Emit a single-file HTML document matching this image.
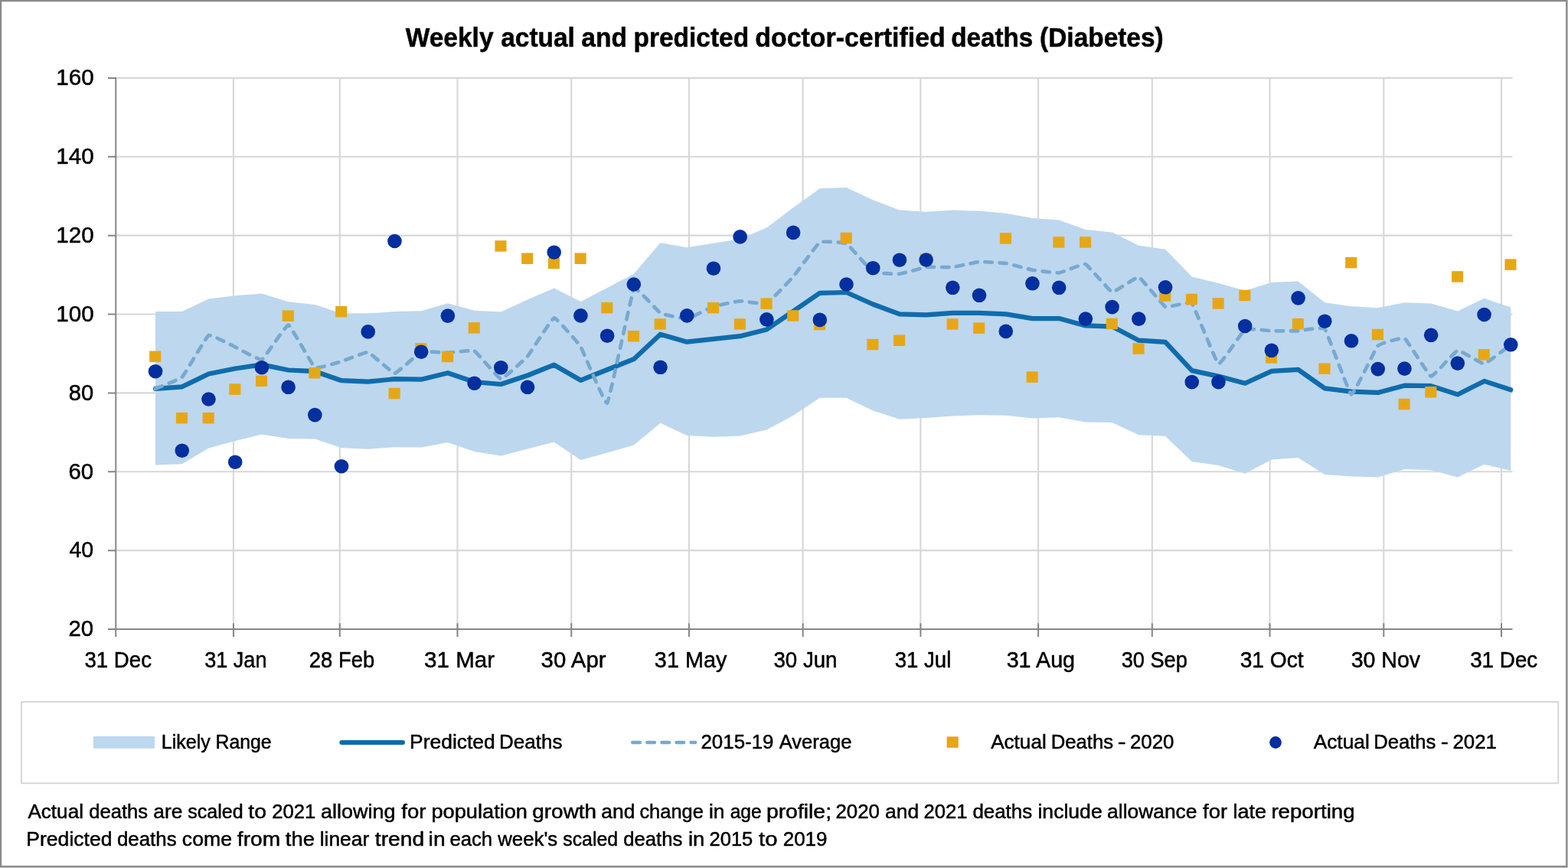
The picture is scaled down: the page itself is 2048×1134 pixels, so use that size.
<!DOCTYPE html>
<html lang="en"><head><meta charset="utf-8"><title>Weekly actual and predicted doctor-certified deaths (Diabetes)</title>
<style>html,body{margin:0;padding:0;background:#fff;width:2048px;height:1134px;overflow:hidden}svg{display:block}text{font-family:"Liberation Sans",sans-serif;fill:#000;stroke:#000;stroke-width:0.5px;stroke-linejoin:round}</style></head><body>
<svg width="2048" height="1134" viewBox="0 0 2048 1134" role="img" aria-label="Weekly actual and predicted doctor-certified deaths (Diabetes)">
<rect x="0" y="0" width="2048" height="1134" fill="#c6c6c6"/>
<rect x="0" y="0" width="2047.2" height="1133" fill="#8a8a8a"/>
<rect x="2.2" y="2.2" width="2042.8999999999999" height="1128.7" fill="#fff"/>
<path d="M151.25 719.13H1975.5M151.25 616.26H1975.5M151.25 513.39H1975.5M151.25 410.51H1975.5M151.25 307.64H1975.5M151.25 204.77H1975.5M151.25 101.90H1975.5M304.95 101.9V822.0M443.78 101.9V822.0M597.49 101.9V822.0M746.24 101.9V822.0M899.94 101.9V822.0M1048.69 101.9V822.0M1202.39 101.9V822.0M1356.10 101.9V822.0M1504.84 101.9V822.0M1658.55 101.9V822.0M1807.30 101.9V822.0M1961.00 101.9V822.0" fill="none" stroke="#d7d7d7" stroke-width="2.1"/>
<polygon points="203.05,406.9 237.76,406.9 272.47,390.5 307.18,386.3 341.89,383.5 376.60,394.3 411.31,398.0 446.02,409.6 480.73,409.6 515.44,407.0 550.15,406.3 584.86,396.3 619.57,405.8 654.28,407.6 688.99,391.6 723.70,376.5 758.41,394.1 793.12,376.0 827.83,357.8 862.54,317.2 897.25,323.2 931.96,317.7 966.67,312.2 1001.38,297.6 1036.09,271.3 1070.80,246.3 1105.51,245.0 1140.22,261.3 1174.93,274.6 1209.64,276.8 1244.35,274.6 1279.06,275.6 1313.77,278.8 1348.48,285.1 1383.19,287.6 1417.90,300.1 1452.61,303.4 1487.32,320.7 1522.03,325.7 1556.74,361.4 1591.45,370.1 1626.16,379.7 1660.87,368.9 1695.58,367.6 1730.29,395.2 1765.00,400.2 1799.71,402.2 1834.42,395.2 1869.13,396.4 1903.84,406.5 1938.55,389.7 1973.26,401.5 1973.26,614.9 1938.55,606.7 1903.84,623.4 1869.13,614.2 1834.42,612.9 1799.71,623.4 1765.00,622.4 1730.29,619.9 1695.58,597.9 1660.87,600.4 1626.16,618.7 1591.45,607.9 1556.74,602.9 1522.03,569.8 1487.32,568.3 1452.61,552.1 1417.90,551.6 1383.19,545.3 1348.48,546.5 1313.77,542.8 1279.06,542.3 1244.35,543.5 1209.64,546.0 1174.93,547.8 1140.22,536.5 1105.51,519.7 1070.80,519.7 1036.09,542.8 1001.38,561.6 966.67,569.6 931.96,570.8 897.25,569.1 862.54,552.8 827.83,581.6 793.12,591.6 758.41,600.9 723.70,577.4 688.99,586.6 654.28,595.4 619.57,589.9 584.86,577.9 550.15,584.4 515.44,584.2 480.73,586.7 446.02,584.9 411.31,573.4 376.60,572.9 341.89,567.4 307.18,575.9 272.47,585.4 237.76,606.2 203.05,607.5" fill="#bdd7ee"/>
<path d="M151.25 100.9V832.0M140.95 822.0H1975.5M140.95 719.13H151.25M140.95 616.26H151.25M140.95 513.39H151.25M140.95 410.51H151.25M140.95 307.64H151.25M140.95 204.77H151.25M140.95 101.90H151.25M304.95 814.2V832.0M443.78 814.2V832.0M597.49 814.2V832.0M746.24 814.2V832.0M899.94 814.2V832.0M1048.69 814.2V832.0M1202.39 814.2V832.0M1356.10 814.2V832.0M1504.84 814.2V832.0M1658.55 814.2V832.0M1807.30 814.2V832.0M1961.00 814.2V832.0" fill="none" stroke="#868686" stroke-width="2"/>
<polyline points="203.05,507.8 237.76,505.3 272.47,488.5 307.18,481.5 341.89,476.4 376.60,483.5 411.31,485.2 446.02,497.2 480.73,498.7 515.44,495.2 550.15,495.7 584.86,487.2 619.57,499.0 654.28,502.0 688.99,490.5 723.70,476.7 758.41,496.8 793.12,483.0 827.83,469.2 862.54,436.7 897.25,446.7 931.96,442.9 966.67,439.2 1001.38,430.4 1036.09,406.6 1070.80,382.8 1105.51,382.0 1140.22,397.5 1174.93,410.4 1209.64,411.4 1244.35,408.9 1279.06,408.9 1313.77,410.4 1348.48,416.1 1383.19,416.1 1417.90,425.4 1452.61,426.6 1487.32,444.7 1522.03,446.9 1556.74,484.1 1591.45,491.6 1626.16,500.7 1660.87,484.9 1695.58,482.9 1730.29,507.4 1765.00,511.7 1799.71,512.9 1834.42,503.7 1869.13,504.2 1903.84,515.4 1938.55,497.9 1973.26,509.2" fill="none" stroke="#0f6cac" stroke-width="6.2" stroke-linejoin="round" stroke-linecap="round"/>
<path d="M203.05 507.80C204.44 507.20 234.98 495.49 237.76 492.70C240.54 489.91 269.69 439.67 272.47 438.10C275.25 436.53 304.40 452.12 307.18 453.40C309.96 454.68 339.11 471.15 341.89 470.00C344.67 468.85 373.82 424.19 376.60 424.60C379.38 425.01 408.53 478.30 411.31 480.20C414.09 482.10 443.24 473.00 446.02 472.20C448.80 471.40 477.95 459.58 480.73 460.20C483.51 460.82 512.66 487.72 515.44 487.70C518.22 487.68 547.37 460.78 550.15 459.70C552.93 458.62 582.08 460.75 584.86 460.70C587.64 460.65 616.79 457.02 619.57 458.40C622.35 459.78 651.50 494.92 654.28 495.20C657.06 495.48 686.21 468.69 688.99 465.50C691.77 462.31 720.92 415.90 723.70 415.40C726.48 414.90 755.63 448.56 758.41 453.00C761.19 457.44 790.34 529.51 793.12 526.50C795.90 523.49 825.05 382.50 827.83 377.80C830.61 373.10 859.76 407.55 862.54 409.10C865.32 410.65 894.47 416.95 897.25 416.60C900.03 416.25 929.18 401.23 931.96 400.30C934.74 399.37 963.89 393.45 966.67 393.30C969.45 393.15 998.60 397.87 1001.38 396.60C1004.16 395.33 1033.31 364.71 1036.09 361.50C1038.87 358.29 1068.02 318.13 1070.80 316.40C1073.58 314.67 1102.73 316.64 1105.51 318.20C1108.29 319.76 1137.44 353.72 1140.22 355.30C1143.00 356.88 1172.15 358.05 1174.93 357.80C1177.71 357.55 1206.86 349.35 1209.64 349.00C1212.42 348.65 1241.57 349.28 1244.35 349.00C1247.13 348.72 1276.28 342.20 1279.06 342.00C1281.84 341.80 1310.99 343.57 1313.77 344.00C1316.55 344.43 1345.70 352.20 1348.48 352.70C1351.26 353.20 1380.41 356.80 1383.19 356.50C1385.97 356.20 1415.12 344.20 1417.90 345.20C1420.68 346.20 1449.83 380.93 1452.61 381.60C1455.39 382.27 1484.54 361.23 1487.32 362.00C1490.10 362.77 1519.25 399.42 1522.03 400.80C1524.81 402.18 1553.96 393.42 1556.74 396.40C1559.52 399.38 1588.67 474.04 1591.45 475.40C1594.23 476.76 1623.38 432.02 1626.16 430.30C1628.94 428.58 1658.09 432.22 1660.87 432.30C1663.65 432.38 1692.80 432.40 1695.58 432.30C1698.36 432.20 1727.51 426.48 1730.29 429.80C1733.07 433.12 1762.22 514.53 1765.00 515.40C1767.78 516.27 1796.93 454.54 1799.71 451.60C1802.49 448.66 1831.64 440.40 1834.42 442.00C1837.20 443.60 1866.35 490.97 1869.13 491.60C1871.91 492.23 1901.06 458.45 1903.84 457.80C1906.62 457.15 1935.77 475.70 1938.55 475.40C1941.33 475.10 1971.87 451.30 1973.26 450.30" fill="none" stroke="#77a9d0" stroke-width="4.7" stroke-linejoin="round" stroke-linecap="round" stroke-dasharray="9.3 9.8"/>
<g fill="#e6a717"><rect x="195.20" y="458.5" width="15.1" height="14.5"/><rect x="229.91" y="538.9" width="15.1" height="14.5"/><rect x="264.62" y="538.9" width="15.1" height="14.5"/><rect x="299.33" y="501.3" width="15.1" height="14.5"/><rect x="334.04" y="490.5" width="15.1" height="14.5"/><rect x="368.75" y="405.4" width="15.1" height="14.5"/><rect x="403.46" y="480.0" width="15.1" height="14.5"/><rect x="438.17" y="399.9" width="15.1" height="14.5"/><rect x="507.59" y="506.8" width="15.1" height="14.5"/><rect x="542.30" y="448.2" width="15.1" height="14.5"/><rect x="577.01" y="458.7" width="15.1" height="14.5"/><rect x="611.72" y="421.1" width="15.1" height="14.5"/><rect x="646.43" y="314.2" width="15.1" height="14.5"/><rect x="681.14" y="330.5" width="15.1" height="14.5"/><rect x="715.85" y="336.8" width="15.1" height="14.5"/><rect x="750.56" y="330.5" width="15.1" height="14.5"/><rect x="785.27" y="394.9" width="15.1" height="14.5"/><rect x="819.98" y="432.0" width="15.1" height="14.5"/><rect x="854.69" y="416.2" width="15.1" height="14.5"/><rect x="924.11" y="394.9" width="15.1" height="14.5"/><rect x="958.82" y="416.2" width="15.1" height="14.5"/><rect x="993.53" y="389.4" width="15.1" height="14.5"/><rect x="1028.24" y="405.2" width="15.1" height="14.5"/><rect x="1062.95" y="416.8" width="15.1" height="14.5"/><rect x="1097.66" y="303.7" width="15.1" height="14.5"/><rect x="1132.37" y="442.8" width="15.1" height="14.5"/><rect x="1167.08" y="437.5" width="15.1" height="14.5"/><rect x="1201.79" y="331.6" width="15.1" height="14.5"/><rect x="1236.50" y="416.2" width="15.1" height="14.5"/><rect x="1271.21" y="421.4" width="15.1" height="14.5"/><rect x="1305.92" y="304.2" width="15.1" height="14.5"/><rect x="1340.63" y="485.3" width="15.1" height="14.5"/><rect x="1375.34" y="309.2" width="15.1" height="14.5"/><rect x="1410.05" y="309.2" width="15.1" height="14.5"/><rect x="1444.76" y="415.7" width="15.1" height="14.5"/><rect x="1479.47" y="448.3" width="15.1" height="14.5"/><rect x="1514.18" y="379.4" width="15.1" height="14.5"/><rect x="1548.89" y="383.7" width="15.1" height="14.5"/><rect x="1583.60" y="389.2" width="15.1" height="14.5"/><rect x="1618.31" y="378.7" width="15.1" height="14.5"/><rect x="1653.02" y="460.1" width="15.1" height="14.5"/><rect x="1687.73" y="416.0" width="15.1" height="14.5"/><rect x="1722.44" y="474.4" width="15.1" height="14.5"/><rect x="1757.15" y="335.9" width="15.1" height="14.5"/><rect x="1791.86" y="429.8" width="15.1" height="14.5"/><rect x="1826.57" y="520.8" width="15.1" height="14.5"/><rect x="1861.28" y="505.0" width="15.1" height="14.5"/><rect x="1895.99" y="354.2" width="15.1" height="14.5"/><rect x="1930.70" y="456.1" width="15.1" height="14.5"/><rect x="1965.41" y="338.4" width="15.1" height="14.5"/></g>
<g fill="#042f9f"><circle cx="203.05" cy="485.2" r="9.3"/><circle cx="237.76" cy="588.7" r="9.3"/><circle cx="272.47" cy="521.5" r="9.3"/><circle cx="307.18" cy="603.7" r="9.3"/><circle cx="341.89" cy="480.2" r="9.3"/><circle cx="376.60" cy="505.8" r="9.3"/><circle cx="411.31" cy="542.1" r="9.3"/><circle cx="446.02" cy="609.2" r="9.3"/><circle cx="480.73" cy="433.4" r="9.3"/><circle cx="515.44" cy="315.0" r="9.3"/><circle cx="550.15" cy="459.7" r="9.3"/><circle cx="584.86" cy="412.6" r="9.3"/><circle cx="619.57" cy="500.7" r="9.3"/><circle cx="654.28" cy="480.2" r="9.3"/><circle cx="688.99" cy="505.8" r="9.3"/><circle cx="723.70" cy="329.7" r="9.3"/><circle cx="758.41" cy="412.4" r="9.3"/><circle cx="793.12" cy="438.7" r="9.3"/><circle cx="827.83" cy="371.5" r="9.3"/><circle cx="862.54" cy="479.8" r="9.3"/><circle cx="897.25" cy="412.4" r="9.3"/><circle cx="931.96" cy="350.7" r="9.3"/><circle cx="966.67" cy="309.4" r="9.3"/><circle cx="1001.38" cy="417.4" r="9.3"/><circle cx="1036.09" cy="303.9" r="9.3"/><circle cx="1070.80" cy="417.9" r="9.3"/><circle cx="1105.51" cy="371.5" r="9.3"/><circle cx="1140.22" cy="350.2" r="9.3"/><circle cx="1174.93" cy="339.7" r="9.3"/><circle cx="1209.64" cy="339.5" r="9.3"/><circle cx="1244.35" cy="375.8" r="9.3"/><circle cx="1279.06" cy="385.8" r="9.3"/><circle cx="1313.77" cy="432.9" r="9.3"/><circle cx="1348.48" cy="370.3" r="9.3"/><circle cx="1383.19" cy="375.8" r="9.3"/><circle cx="1417.90" cy="416.6" r="9.3"/><circle cx="1452.61" cy="401.1" r="9.3"/><circle cx="1487.32" cy="416.6" r="9.3"/><circle cx="1522.03" cy="375.3" r="9.3"/><circle cx="1556.74" cy="499.1" r="9.3"/><circle cx="1591.45" cy="499.1" r="9.3"/><circle cx="1626.16" cy="426.0" r="9.3"/><circle cx="1660.87" cy="457.8" r="9.3"/><circle cx="1695.58" cy="389.4" r="9.3"/><circle cx="1730.29" cy="419.7" r="9.3"/><circle cx="1765.00" cy="445.3" r="9.3"/><circle cx="1799.71" cy="482.1" r="9.3"/><circle cx="1834.42" cy="481.6" r="9.3"/><circle cx="1869.13" cy="437.8" r="9.3"/><circle cx="1903.84" cy="474.6" r="9.3"/><circle cx="1938.55" cy="411.0" r="9.3"/><circle cx="1973.26" cy="450.3" r="9.3"/></g>
<text y="61.25" font-size="35" font-weight="bold"><tspan x="529.69" textLength="114.83" lengthAdjust="spacingAndGlyphs">Weekly</tspan> <tspan x="654.27" textLength="96.59" lengthAdjust="spacingAndGlyphs">actual</tspan> <tspan x="759.26" textLength="59.71" lengthAdjust="spacingAndGlyphs">and</tspan> <tspan x="827.53" textLength="150.68" lengthAdjust="spacingAndGlyphs">predicted</tspan> <tspan x="986.36" textLength="248.38" lengthAdjust="spacingAndGlyphs">doctor-certified</tspan> <tspan x="1242.13" textLength="107.23" lengthAdjust="spacingAndGlyphs">deaths</tspan> <tspan x="1358.08" textLength="161.59" lengthAdjust="spacingAndGlyphs">(Diabetes)</tspan></text>
<text x="89.57" y="831.30" font-size="28.6" textLength="32.63" lengthAdjust="spacingAndGlyphs">20</text>
<text x="90.39" y="728.43" font-size="28.6" textLength="31.77" lengthAdjust="spacingAndGlyphs">40</text>
<text x="89.56" y="625.56" font-size="28.6" textLength="32.64" lengthAdjust="spacingAndGlyphs">60</text>
<text x="89.78" y="522.69" font-size="28.6" textLength="32.42" lengthAdjust="spacingAndGlyphs">80</text>
<text x="73.29" y="419.81" font-size="28.6" textLength="49.42" lengthAdjust="spacingAndGlyphs">100</text>
<text x="73.29" y="316.94" font-size="28.6" textLength="49.42" lengthAdjust="spacingAndGlyphs">120</text>
<text x="73.29" y="214.07" font-size="28.6" textLength="49.42" lengthAdjust="spacingAndGlyphs">140</text>
<text x="73.29" y="111.20" font-size="28.6" textLength="49.42" lengthAdjust="spacingAndGlyphs">160</text>
<text x="110.43" y="872" font-size="28.6" textLength="87.58" lengthAdjust="spacingAndGlyphs">31 Dec</text>
<text x="267.20" y="872" font-size="28.6" textLength="81.29" lengthAdjust="spacingAndGlyphs">31 Jan</text>
<text x="403.87" y="872" font-size="28.6" textLength="85.27" lengthAdjust="spacingAndGlyphs">28 Feb</text>
<text x="554.10" y="872" font-size="28.6" textLength="91.88" lengthAdjust="spacingAndGlyphs">31 Mar</text>
<text x="706.61" y="872" font-size="28.6" textLength="84.89" lengthAdjust="spacingAndGlyphs">30 Apr</text>
<text x="854.88" y="872" font-size="28.6" textLength="94.46" lengthAdjust="spacingAndGlyphs">31 May</text>
<text x="1010.42" y="872" font-size="28.6" textLength="83.11" lengthAdjust="spacingAndGlyphs">30 Jun</text>
<text x="1168.68" y="872" font-size="28.6" textLength="73.65" lengthAdjust="spacingAndGlyphs">31 Jul</text>
<text x="1314.63" y="872" font-size="28.6" textLength="89.49" lengthAdjust="spacingAndGlyphs">31 Aug</text>
<text x="1464.69" y="872" font-size="28.6" textLength="86.18" lengthAdjust="spacingAndGlyphs">30 Sep</text>
<text x="1619.65" y="872" font-size="28.6" textLength="83.03" lengthAdjust="spacingAndGlyphs">31 Oct</text>
<text x="1764.64" y="872" font-size="28.6" textLength="90.50" lengthAdjust="spacingAndGlyphs">30 Nov</text>
<text x="1920.17" y="872" font-size="28.6" textLength="88.09" lengthAdjust="spacingAndGlyphs">31 Dec</text>
<rect x="28" y="917" width="2007.25" height="106.25" fill="none" stroke="#d7d7d7" stroke-width="2"/>
<rect x="122" y="962" width="80" height="15.75" fill="#bdd7ee"/>
<path d="M446.3 970H526" stroke="#0f6cac" stroke-width="6.0" stroke-linecap="round" fill="none"/>
<path d="M826.25 970H908" stroke="#77a9d0" stroke-width="4.5" stroke-linecap="round" stroke-dasharray="9.6 9.5" fill="none"/>
<rect x="1236.65" y="962.3" width="15.1" height="14.6" fill="#e6a717"/>
<circle cx="1666" cy="970" r="7.9" fill="#042f9f"/>
<text y="978.25" font-size="26"><tspan x="210.69" textLength="64.18" lengthAdjust="spacingAndGlyphs">Likely</tspan> <tspan x="281.46" textLength="73.14" lengthAdjust="spacingAndGlyphs">Range</tspan></text>
<text y="978.25" font-size="26"><tspan x="535.08" textLength="111.63" lengthAdjust="spacingAndGlyphs">Predicted</tspan> <tspan x="652.12" textLength="82.32" lengthAdjust="spacingAndGlyphs">Deaths</tspan></text>
<text y="978.25" font-size="26"><tspan x="915.45" textLength="95.03" lengthAdjust="spacingAndGlyphs">2015-19</tspan> <tspan x="1017.67" textLength="94.73" lengthAdjust="spacingAndGlyphs">Average</tspan></text>
<text y="978.25" font-size="26"><tspan x="1294.16" textLength="72.56" lengthAdjust="spacingAndGlyphs">Actual</tspan> <tspan x="1372.64" textLength="81.55" lengthAdjust="spacingAndGlyphs">Deaths</tspan> <tspan x="1459.79" textLength="10.92" lengthAdjust="spacingAndGlyphs">-</tspan> <tspan x="1475.95" textLength="57.56" lengthAdjust="spacingAndGlyphs">2020</tspan></text>
<text y="978.25" font-size="26"><tspan x="1715.66" textLength="73.08" lengthAdjust="spacingAndGlyphs">Actual</tspan> <tspan x="1794.14" textLength="81.29" lengthAdjust="spacingAndGlyphs">Deaths</tspan> <tspan x="1881.88" textLength="10.24" lengthAdjust="spacingAndGlyphs">-</tspan> <tspan x="1897.45" textLength="57.56" lengthAdjust="spacingAndGlyphs">2021</tspan></text>
<text y="1069.3" font-size="26"><tspan x="36.41" textLength="72.56" lengthAdjust="spacingAndGlyphs">Actual</tspan> <tspan x="116.17" textLength="77.00" lengthAdjust="spacingAndGlyphs">deaths</tspan> <tspan x="200.38" textLength="38.04" lengthAdjust="spacingAndGlyphs">are</tspan> <tspan x="245.26" textLength="72.37" lengthAdjust="spacingAndGlyphs">scaled</tspan> <tspan x="324.32" textLength="23.62" lengthAdjust="spacingAndGlyphs">to</tspan> <tspan x="355.21" textLength="57.04" lengthAdjust="spacingAndGlyphs">2021</tspan> <tspan x="419.10" textLength="97.38" lengthAdjust="spacingAndGlyphs">allowing</tspan> <tspan x="524.36" textLength="32.09" lengthAdjust="spacingAndGlyphs">for</tspan> <tspan x="563.48" textLength="125.53" lengthAdjust="spacingAndGlyphs">population</tspan> <tspan x="695.32" textLength="83.74" lengthAdjust="spacingAndGlyphs">growth</tspan> <tspan x="785.37" textLength="44.09" lengthAdjust="spacingAndGlyphs">and</tspan> <tspan x="835.42" textLength="83.46" lengthAdjust="spacingAndGlyphs">change</tspan> <tspan x="925.99" textLength="20.48" lengthAdjust="spacingAndGlyphs">in</tspan> <tspan x="953.71" textLength="40.88" lengthAdjust="spacingAndGlyphs">age</tspan> <tspan x="1000.90" textLength="85.15" lengthAdjust="spacingAndGlyphs">profile;</tspan> <tspan x="1091.45" textLength="57.56" lengthAdjust="spacingAndGlyphs">2020</tspan> <tspan x="1156.12" textLength="44.09" lengthAdjust="spacingAndGlyphs">and</tspan> <tspan x="1206.46" textLength="57.04" lengthAdjust="spacingAndGlyphs">2021</tspan> <tspan x="1270.41" textLength="77.77" lengthAdjust="spacingAndGlyphs">deaths</tspan> <tspan x="1355.47" textLength="84.22" lengthAdjust="spacingAndGlyphs">include</tspan> <tspan x="1446.13" textLength="117.31" lengthAdjust="spacingAndGlyphs">allowance</tspan> <tspan x="1571.11" textLength="32.09" lengthAdjust="spacingAndGlyphs">for</tspan> <tspan x="1610.43" textLength="43.52" lengthAdjust="spacingAndGlyphs">late</tspan> <tspan x="1660.41" textLength="109.14" lengthAdjust="spacingAndGlyphs">reporting</tspan></text>
<text y="1104.5" font-size="26"><tspan x="34.32" textLength="112.15" lengthAdjust="spacingAndGlyphs">Predicted</tspan> <tspan x="152.91" textLength="77.77" lengthAdjust="spacingAndGlyphs">deaths</tspan> <tspan x="237.87" textLength="65.07" lengthAdjust="spacingAndGlyphs">come</tspan> <tspan x="309.85" textLength="56.25" lengthAdjust="spacingAndGlyphs">from</tspan> <tspan x="372.83" textLength="38.13" lengthAdjust="spacingAndGlyphs">the</tspan> <tspan x="417.72" textLength="64.47" lengthAdjust="spacingAndGlyphs">linear</tspan> <tspan x="489.82" textLength="64.25" lengthAdjust="spacingAndGlyphs">trend</tspan> <tspan x="559.61" textLength="21.98" lengthAdjust="spacingAndGlyphs">in</tspan> <tspan x="587.40" textLength="55.76" lengthAdjust="spacingAndGlyphs">each</tspan> <tspan x="650.26" textLength="77.94" lengthAdjust="spacingAndGlyphs">week's</tspan> <tspan x="735.26" textLength="71.86" lengthAdjust="spacingAndGlyphs">scaled</tspan> <tspan x="814.17" textLength="77.26" lengthAdjust="spacingAndGlyphs">deaths</tspan> <tspan x="898.91" textLength="21.38" lengthAdjust="spacingAndGlyphs">in</tspan> <tspan x="926.46" textLength="56.86" lengthAdjust="spacingAndGlyphs">2015</tspan> <tspan x="991.05" textLength="24.42" lengthAdjust="spacingAndGlyphs">to</tspan> <tspan x="1022.69" textLength="57.78" lengthAdjust="spacingAndGlyphs">2019</tspan></text>
</svg></body></html>
